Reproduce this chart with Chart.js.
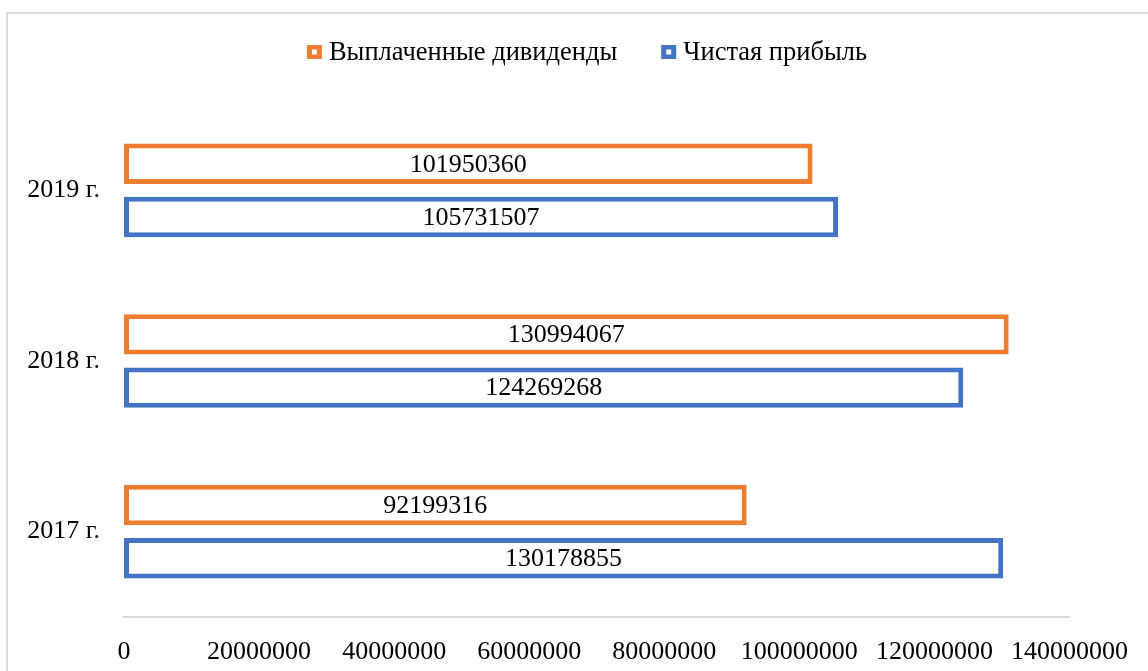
<!DOCTYPE html>
<html lang="ru">
<head>
<meta charset="utf-8">
<title>Выплаченные дивиденды и чистая прибыль</title>
<script src="https://cdn.jsdelivr.net/npm/chart.js@4.4.1/dist/chart.umd.min.js"></script>
<style>
  html, body { margin: 0; padding: 0; background: #ffffff; overflow: hidden; }
  #wrap { position: relative; width: 1148px; height: 671px; }
  #frame {
    position: absolute; left: 6px; top: 12px; width: 1300px; height: 800px;
    border-left: 2px solid #dcdcdc; border-top: 2px solid #dcdcdc;
    box-sizing: border-box; pointer-events: none;
  }
  canvas { position: absolute; left: 0; top: 0; }
</style>
</head>
<body>
<div id="wrap">
  <div id="frame"></div>
  <canvas id="chart" width="1148" height="671"></canvas>
</div>
<script>
// Years, listed top to bottom as they appear on the category axis
const years = ['2019 г.', '2018 г.', '2017 г.'];
// Dividends paid, RUB
const dividends = [101950360, 130994067, 92199316];
// Net profit, RUB
const netProfit = [105731507, 124269268, 130178855];
// Value axis ticks
const xTickValues = [0, 20000000, 40000000, 60000000, 80000000, 100000000, 120000000, 140000000];

const seriesNames = ['Выплаченные дивиденды', 'Чистая прибыль'];
const seriesColors = ['#ED7D31', '#4472C4'];

const FONT = '"Liberation Serif", "Times New Roman", serif';
const FONT_SIZE = 26;

// Value written in the middle of each bar
const barValueLabels = {
  id: 'barValueLabels',
  afterDatasetsDraw(chart) {
    const ctx = chart.ctx;
    ctx.save();
    ctx.font = FONT_SIZE + 'px ' + FONT;
    ctx.fillStyle = '#000000';
    ctx.textAlign = 'center';
    ctx.textBaseline = 'middle';
    chart.data.datasets.forEach((ds, di) => {
      const meta = chart.getDatasetMeta(di);
      meta.data.forEach((bar, i) => {
        const cx = (bar.x + bar.base) / 2;
        ctx.fillText(String(ds.data[i]), cx, bar.y + 1);
      });
    });
    ctx.restore();
  }
};

// Legend row with outlined square markers
const topLegend = {
  id: 'topLegend',
  afterDraw(chart) {
    const ctx = chart.ctx;
    ctx.save();
    ctx.font = '26.5px ' + FONT;
    ctx.textBaseline = 'middle';
    ctx.textAlign = 'left';
    const box = 15, boxH = 14, gap = 7, spacing = 44;
    const widths = seriesNames.map(n => ctx.measureText(n).width);
    const total = widths.reduce((a, w) => a + box + gap + w, 0) + spacing * (seriesNames.length - 1);
    let x = 587 - total / 2;
    const cy = 52;
    seriesNames.forEach((name, i) => {
      ctx.fillStyle = seriesColors[i];
      ctx.fillRect(x, cy - boxH / 2, box, boxH);
      ctx.fillStyle = '#ffffff';
      ctx.fillRect(x + 5, cy - boxH / 2 + 4.5, box - 10, boxH - 9);
      ctx.fillStyle = '#000000';
      ctx.fillText(name, x + box + gap, cy + 1);
      x += box + gap + widths[i] + spacing;
    });
    ctx.restore();
  }
};

new Chart(document.getElementById('chart'), {
  type: 'bar',
  data: {
    labels: years,
    datasets: [
      {
        label: seriesNames[0],
        data: dividends,
        backgroundColor: '#ffffff',
        borderColor: seriesColors[0],
        borderWidth: 5,
        borderSkipped: false,
        categoryPercentage: 0.624,
        barPercentage: 0.76
      },
      {
        label: seriesNames[1],
        data: netProfit,
        backgroundColor: '#ffffff',
        borderColor: seriesColors[1],
        borderWidth: 5,
        borderSkipped: false,
        categoryPercentage: 0.624,
        barPercentage: 0.76
      }
    ]
  },
  options: {
    indexAxis: 'y',
    responsive: false,
    animation: false,
    devicePixelRatio: 1,
    layout: { padding: { top: 105, right: 76, bottom: 0, left: 0 } },
    scales: {
      x: {
        min: 0,
        max: 140000000,
        afterBuildTicks(scale) {
          scale.ticks = xTickValues.map(v => ({ value: v }));
        },
        afterFit(scale) { scale.height = 54; },
        ticks: {
          color: '#000000',
          font: { family: FONT, size: FONT_SIZE },
          padding: 20,
          maxRotation: 0,
          autoSkip: false,
          callback: v => String(v)
        },
        grid: { display: false, drawTicks: false },
        border: { display: true, color: '#d9d9d9', width: 2 }
      },
      y: {
        afterFit(scale) { scale.width = 124; },
        ticks: {
          color: '#000000',
          font: { family: FONT, size: FONT_SIZE },
          padding: 24
        },
        grid: { display: false, drawTicks: false },
        border: { display: false }
      }
    },
    plugins: {
      legend: { display: false },
      tooltip: { enabled: false }
    }
  },
  plugins: [barValueLabels, topLegend]
});
</script>
</body>
</html>
